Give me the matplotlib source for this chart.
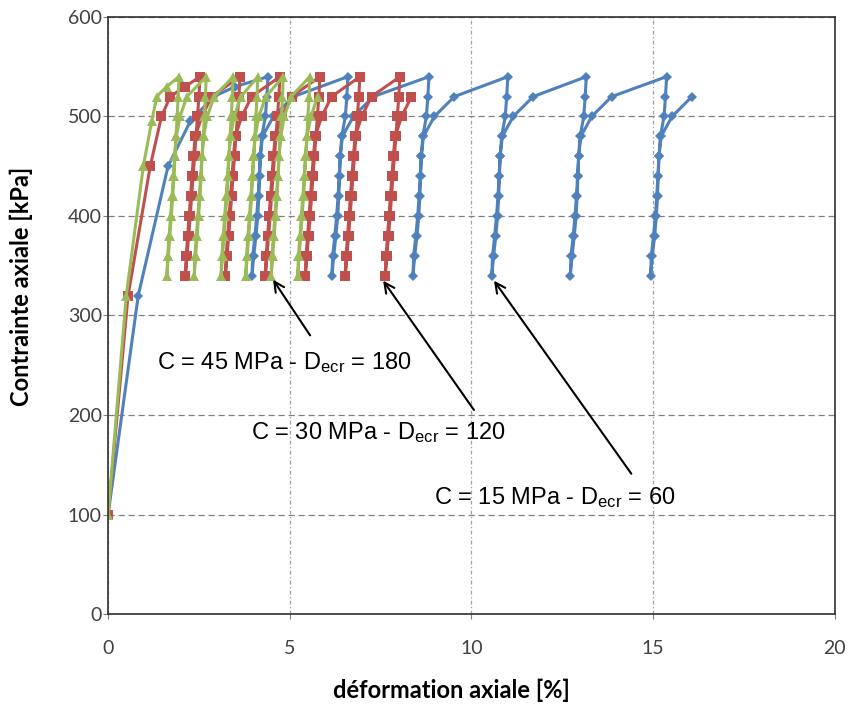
import matplotlib
matplotlib.use('Agg')
import matplotlib.pyplot as plt

plt.rcParams['mathtext.fontset'] = 'custom'
plt.rcParams['mathtext.rm'] = 'Liberation Sans'
plt.rcParams['mathtext.it'] = 'Liberation Sans'

# stress levels of one unload / reload cycle (kPa)
cycle_stress = [540, 520, 500, 480, 460, 440, 420, 400, 380, 360, 340,
                360, 380, 400, 420, 440, 460, 480, 500, 520]

# C = 15 MPa - Decr = 60
blue_stress = [100, 320, 450, 495, 520, 530] + cycle_stress * 6
blue_strain = [0, 0.83, 1.65, 2.26, 2.9, 3.5,
               4.40, 4.37, 4.33, 4.23, 4.19, 4.17, 4.15, 4.12, 4.07, 4.01, 3.96,
               3.98, 4.04, 4.09, 4.13, 4.16, 4.19, 4.25, 4.55, 5.10,
               6.60, 6.57, 6.53, 6.43, 6.39, 6.37, 6.35, 6.32, 6.27, 6.21, 6.16,
               6.18, 6.24, 6.29, 6.33, 6.36, 6.39, 6.45, 6.75, 7.30,
               8.83, 8.80, 8.76, 8.66, 8.62, 8.60, 8.58, 8.55, 8.50, 8.44, 8.39,
               8.41, 8.47, 8.52, 8.56, 8.59, 8.62, 8.68, 8.98, 9.53,
               11.00, 10.97, 10.93, 10.83, 10.79, 10.77, 10.75, 10.72, 10.67, 10.61, 10.56,
               10.58, 10.64, 10.69, 10.73, 10.76, 10.79, 10.85, 11.15, 11.70,
               13.16, 13.13, 13.09, 12.99, 12.95, 12.93, 12.91, 12.88, 12.83, 12.77, 12.72,
               12.74, 12.80, 12.85, 12.89, 12.92, 12.95, 13.01, 13.31, 13.86,
               15.37, 15.34, 15.30, 15.20, 15.16, 15.14, 15.12, 15.09, 15.04, 14.98, 14.93,
               14.95, 15.01, 15.06, 15.10, 15.13, 15.16, 15.22, 15.52, 16.07]

# C = 30 MPa - Decr = 120
red_stress = [100, 320, 450, 500, 520, 530] + cycle_stress * 6
red_strain = [0, 0.55, 1.16, 1.47, 1.71, 2.12,
              2.53, 2.50, 2.46, 2.42, 2.38, 2.34, 2.30, 2.26, 2.22, 2.17, 2.13,
              2.15, 2.19, 2.23, 2.27, 2.31, 2.35, 2.40, 2.58, 2.85,
              3.63, 3.60, 3.56, 3.52, 3.48, 3.44, 3.40, 3.36, 3.32, 3.27, 3.23,
              3.25, 3.29, 3.33, 3.37, 3.41, 3.45, 3.50, 3.68, 3.95,
              4.73, 4.70, 4.66, 4.62, 4.58, 4.54, 4.50, 4.46, 4.42, 4.37, 4.33,
              4.35, 4.39, 4.43, 4.47, 4.51, 4.55, 4.60, 4.78, 5.05,
              5.83, 5.80, 5.76, 5.72, 5.68, 5.64, 5.60, 5.56, 5.52, 5.47, 5.43,
              5.45, 5.49, 5.53, 5.57, 5.61, 5.65, 5.70, 5.88, 6.15,
              6.93, 6.90, 6.86, 6.82, 6.78, 6.74, 6.70, 6.66, 6.62, 6.57, 6.53,
              6.55, 6.59, 6.63, 6.67, 6.71, 6.75, 6.80, 6.98, 7.25,
              8.03, 8.00, 7.96, 7.92, 7.88, 7.84, 7.80, 7.76, 7.72, 7.67, 7.63,
              7.65, 7.69, 7.73, 7.77, 7.81, 7.85, 7.90, 8.08, 8.35]

# C = 45 MPa - Decr = 180
green_stress = [100, 320, 450, 495, 520, 530] + cycle_stress * 6
green_strain = [0, 0.50, 0.97, 1.20, 1.34, 1.61,
                1.95, 1.93, 1.90, 1.87, 1.84, 1.81, 1.78, 1.74, 1.70, 1.66, 1.62,
                1.64, 1.68, 1.72, 1.76, 1.80, 1.83, 1.88, 1.98, 2.17,
                2.70, 2.68, 2.65, 2.62, 2.59, 2.56, 2.53, 2.49, 2.45, 2.41, 2.37,
                2.39, 2.43, 2.47, 2.51, 2.55, 2.58, 2.63, 2.73, 2.92,
                3.44, 3.42, 3.39, 3.36, 3.33, 3.30, 3.27, 3.23, 3.19, 3.15, 3.11,
                3.13, 3.17, 3.21, 3.25, 3.29, 3.32, 3.37, 3.47, 3.66,
                4.12, 4.10, 4.07, 4.04, 4.01, 3.98, 3.95, 3.91, 3.87, 3.83, 3.79,
                3.81, 3.85, 3.89, 3.93, 3.97, 4.00, 4.05, 4.15, 4.34,
                4.82, 4.80, 4.77, 4.74, 4.71, 4.68, 4.65, 4.61, 4.57, 4.53, 4.49,
                4.51, 4.55, 4.59, 4.63, 4.67, 4.70, 4.75, 4.85, 5.04,
                5.55, 5.53, 5.50, 5.47, 5.44, 5.41, 5.38, 5.34, 5.30, 5.26, 5.22,
                5.24, 5.28, 5.32, 5.36, 5.40, 5.43, 5.48, 5.58, 5.77]

labels = ['C = 45 MPa - D$_\\mathregular{ecr}$ = 180',
          'C = 30 MPa - D$_\\mathregular{ecr}$ = 120',
          'C = 15 MPa - D$_\\mathregular{ecr}$ = 60']
label_pos = [(1.36, 253), (3.93, 182), (8.97, 117)]
arrow_tail = [(5.56, 280), (10.07, 205), (14.4, 141)]
arrow_head = [(4.54, 336), (7.57, 335), (10.62, 335)]

fig = plt.figure(figsize=(8.51, 7.07), dpi=100)
ax = fig.add_axes([0.127, 0.1315, 0.854, 0.8445])

ax.plot(blue_strain, blue_stress, color='#4F81BD', lw=2.2, marker='D', ms=5.5,
        markeredgewidth=0)
ax.plot(red_strain, red_stress, color='#C0504D', lw=2.2, marker='s', ms=7,
        markeredgewidth=0)
ax.plot(green_strain, green_stress, color='#9BBB59', lw=2.2, marker='^', ms=7.5,
        markeredgewidth=0)

for txt, pos, tail, head in zip(labels, label_pos, arrow_tail, arrow_head):
    ax.annotate('', xy=head, xytext=tail,
                arrowprops=dict(arrowstyle='->', color='black', lw=1.5,
                                mutation_scale=18, shrinkA=0, shrinkB=0))
    ax.text(pos[0], pos[1], txt, fontsize=17, family='Liberation Sans',
            va='center', ha='left')

ax.set_xlim(0, 20)
ax.set_ylim(0, 600)
ax.set_xticks([0, 5, 10, 15, 20])
ax.set_yticks([0, 100, 200, 300, 400, 500, 600])
ax.grid(axis='y', color='#808080', linestyle=(0, (5, 3)), lw=0.9)
ax.grid(axis='x', color='#a0a0a0', linestyle=(0, (3, 2, 1, 2)), lw=0.9)
ax.set_axisbelow(True)
for s in ax.spines.values():
    s.set_color('#303030')
    s.set_linewidth(1.2)
ax.tick_params(direction='out', length=3.5, color='#808080', labelsize=14,
               labelcolor='#404040')
for lab in ax.get_xticklabels() + ax.get_yticklabels():
    lab.set_family('Lato')
ax.tick_params(axis='x', pad=15)
ax.tick_params(axis='y', pad=1)

ax.set_xlabel('déformation axiale [%]', fontsize=17, fontweight='bold',
              family='Lato')
ax.set_ylabel('Contrainte axiale [kPa]', fontsize=17, fontweight='bold',
              family='Lato')
ax.xaxis.set_label_coords(0.473, -0.108)
ax.yaxis.set_label_coords(-0.103, 0.548)

fig.savefig('out.png', dpi=100)
